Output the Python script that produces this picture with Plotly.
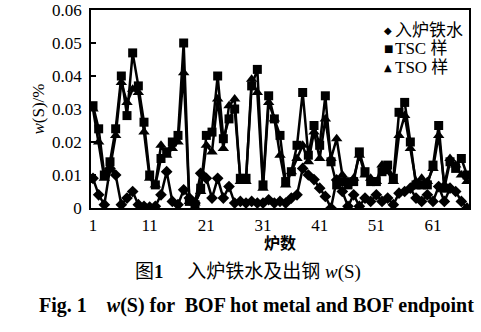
import plotly.graph_objects as go

furnace = list(range(1, 68))
hot_metal = [0.009, 0.004, 0.001, 0.012, 0.010, 0.001, 0.003, 0.005, 0.001, 0.0005,
             0.0003, 0.0005, 0.004, 0.011, 0.002, 0.001, 0.0055, 0.003, 0.0015, 0.0105,
             0.009, 0.003, 0.009, 0.003, 0.0065, 0.0015, 0.002, 0.0015, 0.002, 0.0015,
             0.0015, 0.0025, 0.0015, 0.002, 0.0015, 0.003, 0.004, 0.012, 0.010, 0.0086,
             0.006, 0.0035, 0.0, 0.0085, 0.005, 0.0005, 0.004, 0.0005, 0.003, 0.002,
             0.004, 0.002, 0.003, 0.001, 0.0045, 0.005, 0.006, 0.003, 0.002, 0.004,
             0.002, 0.0065, 0.002, 0.006, 0.005, 0.002, 0.0]
tsc = [0.031, 0.024, 0.010, 0.014, 0.024, 0.040, 0.028, 0.047, 0.037, 0.026,
       0.010, 0.007, 0.015, 0.017, 0.020, 0.022, 0.050, 0.002, 0.001, 0.006,
       0.022, 0.023, 0.040, 0.021, 0.027, 0.030, 0.009, 0.009, 0.037, 0.042,
       0.007, 0.034, 0.027, 0.022, 0.008, 0.011, 0.019, 0.035, 0.016, 0.025,
       0.019, 0.034, 0.014, 0.007, 0.008, 0.007, 0.008, 0.017, 0.011, 0.008,
       0.008, 0.011, 0.013, 0.009, 0.029, 0.032, 0.020, 0.007, 0.007, 0.007,
       0.013, 0.025, 0.006, 0.014, 0.012, 0.015, 0.010]
tso = [0.030, 0.020, 0.009, 0.012, 0.022, 0.038, 0.032, 0.036, 0.035, 0.023,
       0.009, 0.007, 0.019, 0.016, 0.018, 0.020, 0.041, 0.002, 0.0015, 0.005,
       0.019, 0.017, 0.033, 0.018, 0.031, 0.033, 0.008, 0.008, 0.039, 0.035,
       0.006, 0.032, 0.027, 0.016, 0.007, 0.011, 0.015, 0.019, 0.014, 0.023,
       0.015, 0.027, 0.015, 0.021, 0.010, 0.008, 0.009, 0.016, 0.010, 0.009,
       0.008, 0.013, 0.011, 0.008, 0.022, 0.028, 0.018, 0.008, 0.009, 0.008,
       0.012, 0.022, 0.007, 0.015, 0.013, 0.010, 0.008]

series_names = ["入炉铁水", "TSC 样", "TSO 样"]
series_symbols = ["diamond", "square", "triangle-up"]
legend_glyphs = ["◆", "■", "▲"]
series_sizes = [9, 9, 10]
xtick_vals = [1, 11, 21, 31, 41, 51, 61]
ytick_vals = [0, 0.01, 0.02, 0.03, 0.04, 0.05, 0.06]
ytick_text = ["0", "0.01", "0.02", "0.03", "0.04", "0.05", "0.06"]

SERIF = "Liberation Serif, Noto Sans CJK SC, serif"

fig = go.Figure()
for name, vals, sym, sz in zip(series_names, [hot_metal, tsc, tso], series_symbols, series_sizes):
    fig.add_trace(go.Scatter(
        x=furnace, y=vals, mode="lines+markers", name=name, showlegend=False,
        line=dict(color="black", width=2.5),
        marker=dict(symbol=sym, size=sz, color="black"),
    ))

annotations = []
legend_rows = [0.897, 0.805, 0.71]
for glyph, name, yy in zip(legend_glyphs, series_names, legend_rows):
    annotations.append(dict(text=glyph, xref="paper", yref="paper", x=0.786, y=yy,
                            xanchor="center", yanchor="middle", showarrow=False,
                            font=dict(family="DejaVu Sans", size=10, color="black")))
    annotations.append(dict(text=name, xref="paper", yref="paper", x=0.799, y=yy,
                            xanchor="left", yanchor="middle", showarrow=False,
                            font=dict(family=SERIF, size=17, color="black")))

annotations += [
    dict(text="图<b>1</b>　 入炉铁水及出钢 <i>w</i>(S)", xref="paper", yref="paper",
         x=0.415, y=-0.325, xanchor="center", yanchor="middle", showarrow=False,
         font=dict(family=SERIF, size=19)),
    dict(text="<b>Fig. 1　<i>w</i>(S) for  BOF hot metal and BOF endpoint</b>",
         xref="paper", yref="paper", x=-0.143, y=-0.49, xanchor="left", yanchor="middle",
         showarrow=False, font=dict(family="Liberation Serif", size=20)),
]

fig.update_layout(
    width=481, height=332,
    margin=dict(l=91, r=12, t=10, b=124),
    paper_bgcolor="white", plot_bgcolor="white",
    font=dict(family=SERIF, size=16, color="black"),
    showlegend=False,
    xaxis=dict(range=[0.647, 67.35], tickmode="array", tickvals=xtick_vals,
               ticks="", showgrid=False, zeroline=False, automargin=False,
               showline=True, linecolor="black", linewidth=1.5, mirror=True,
               tickfont=dict(family="Liberation Serif", size=17),
               ticklabelstandoff=1,
               title=dict(text="<b>炉数</b>", font=dict(family=SERIF, size=16), standoff=0)),
    yaxis=dict(range=[0, 0.06], tickmode="array", tickvals=ytick_vals, ticktext=ytick_text,
               ticks="inside", ticklen=5, tickwidth=1.5, tickcolor="black",
               showgrid=False, zeroline=False, automargin=False,
               showline=True, linecolor="black", linewidth=1.5, mirror=True,
               tickfont=dict(family="Liberation Serif", size=17),
               ticklabelstandoff=4,
               title=dict(text="<i>w</i>(S)/%", font=dict(family="Liberation Serif", size=17), standoff=3)),
    annotations=annotations,
)

fig.write_html("out.html", config={"displayModeBar": False},
               post_script="document.body.style.margin='0';")
